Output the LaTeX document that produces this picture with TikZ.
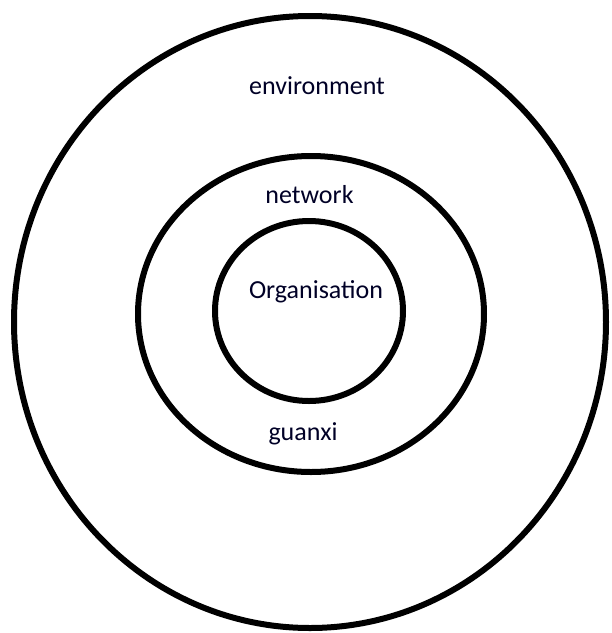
\documentclass[tikz,border=0pt]{standalone}
\usepackage{fontspec}
\setmainfont{Carlito}
\tikzset{ring/.style={line width=6pt},
  lbl/.style={font=\fontsize{26}{30}\selectfont, text=black!85!blue, inner sep=0pt}}
\begin{document}
\begin{tikzpicture}[x=1pt,y=-1pt]
            \useasboundingbox (0,0) rectangle (612,633);
            \draw [ring] (310,322) ellipse (296 and 306);
            \draw [ring] (311,314) ellipse (173 and 158);
            \draw [ring] (309,311) ellipse (94 and 90);
            \node [lbl] (env) at (317,86) {environment};
            \node [lbl] (net) at (309.5,195) {network};
            \node [lbl] (org) at (316,292) {Organisation};
            \node [lbl] (gx) at (303,434) {guanxi};
        \end{tikzpicture}
\end{document}
